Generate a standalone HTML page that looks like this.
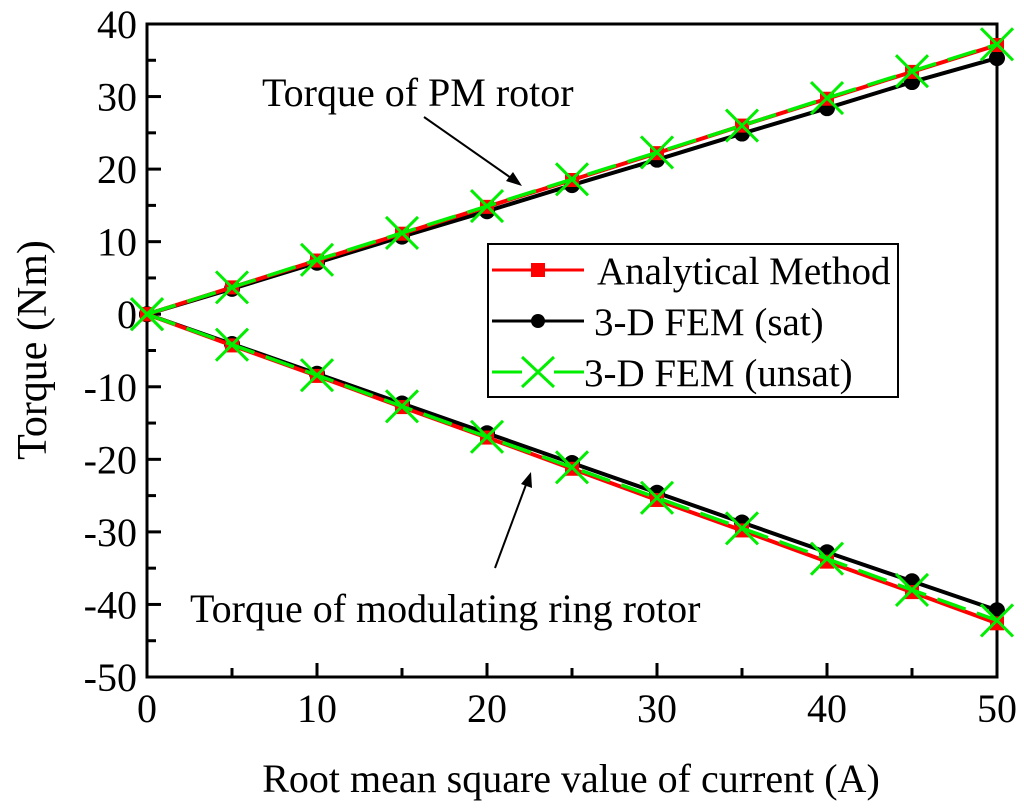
<!DOCTYPE html>
<html><head><meta charset="utf-8"><style>
body{margin:0;background:#fff}
svg{display:block;font-family:"Liberation Serif",serif}
</style></head><body>
<svg id="chart" width="1024" height="810" viewBox="0 0 1024 810" xmlns="http://www.w3.org/2000/svg">
<g id="axes"></g>
<g id="series"></g>
<text x="571" y="792" font-size="40" text-anchor="middle">Root mean square value of current (A)</text>
<text transform="translate(46,350) rotate(-90)" font-size="42" text-anchor="middle">Torque (Nm)</text>
<text x="262" y="106" font-size="40">Torque of PM rotor</text>
<line x1="424" y1="117" x2="514" y2="180" stroke="#000" stroke-width="2"/>
<polygon points="522,186 506,181 513,172" fill="#000"/>
<text x="190" y="622" font-size="40">Torque of modulating ring rotor</text>
<line x1="495" y1="568" x2="527" y2="482" stroke="#000" stroke-width="2"/>
<polygon points="531,472 532,488 521,484" fill="#000"/>
<g>
<rect x="488" y="244" width="410" height="153" fill="#fff" stroke="#000" stroke-width="2"/>
<g>
<line x1="492" y1="270" x2="584" y2="270" stroke="#f00" stroke-width="3"/>
<rect x="531" y="263" width="14" height="14" fill="#f00"/>
<text x="597" y="284" font-size="39">Analytical Method</text></g>
<g>
<line x1="492" y1="321" x2="584" y2="321" stroke="#000" stroke-width="3"/>
<circle cx="538" cy="321" r="7" fill="#000"/>
<text x="594" y="335" font-size="39">3-D FEM (sat)</text></g>
<g>
<line x1="492" y1="372" x2="522" y2="372" stroke="#0e0" stroke-width="3"/>
<line x1="554" y1="372" x2="584" y2="372" stroke="#0e0" stroke-width="3"/>
<path d="M522,357 L554,387 M554,357 L522,387" stroke="#0e0" stroke-width="3"/>
<text x="584" y="386" font-size="39">3-D FEM (unsat)</text></g>
</g>
</svg>
<script>
const currents=[0,5,10,15,20,25,30,35,40,45,50];
const pmAnalytical=[0,3.7,7.4,11.1,14.8,18.5,22.2,26,29.7,33.4,37.1];
const pmSat=[0,3.5,7.1,10.7,14.2,17.8,21.3,24.9,28.4,32,35.3];
const pmUnsat=[0,3.7,7.5,11.2,14.9,18.6,22.3,26,29.8,33.5,37.2];
const ringAnalytical=[0,-4.3,-8.5,-12.8,-17,-21.3,-25.6,-29.8,-34.1,-38.3,-42.6];
const ringSat=[0,-4.1,-8.2,-12.3,-16.4,-20.5,-24.6,-28.7,-32.8,-36.8,-40.8];
const ringUnsat=[0,-4.2,-8.4,-12.7,-16.9,-21.1,-25.3,-29.5,-33.7,-38,-42.2];
const xTicks=[0,10,20,30,40,50];
const yTicks=[40,30,20,10,0,-10,-20,-30,-40,-50];

const X0=147,X1=997,Y0=24,Y1=677;
const sx=v=>X0+(v-0)/50*(X1-X0);
const sy=v=>Y0+(40-v)/90*(Y1-Y0);
const NS='http://www.w3.org/2000/svg';
function mk(tag,attrs,parent){const e=document.createElementNS(NS,tag);for(const k in attrs)e.setAttribute(k,attrs[k]);parent.appendChild(e);return e;}
const axes=document.getElementById('axes');
const frame=mk('rect',{x:X0,y:Y0,width:X1-X0,height:Y1-Y0,fill:'none',stroke:'#000','stroke-width':3},axes);


for(let v=0;v<=50;v+=5){const major=v%10===0;const x=sx(v);const L=major?14:9;
 const t=mk('line',{x1:x,y1:Y1,x2:x,y2:Y1-L,stroke:'#000','stroke-width':3},axes);
 
 }
xTicks.forEach(v=>{const t=mk('text',{x:sx(v),y:Y1+45,'font-size':40,'text-anchor':'middle'},axes);t.textContent=v;
 
 });
for(let v=-50;v<=40;v+=5){const major=v%10===0;const y=sy(v);const L=major?14:9;
 const t=mk('line',{x1:X0,y1:y,x2:X0+L,y2:y,stroke:'#000','stroke-width':3},axes);
 
 }
yTicks.forEach(v=>{const t=mk('text',{x:X0-10,y:sy(v)+14,'font-size':40,'text-anchor':'end'},axes);t.textContent=v;
 
 });

const ser=document.getElementById('series');
function pts(a){return a.map((v,i)=>sx(currents[i])+','+sy(v)).join(' ');}
function drawSeries(vals,kind,name){
 const g=mk('g',{},ser);
 
 
 const col=kind==='sat'?'#000':kind==='an'?'#f00':'#0e0';
 mk('polyline',{points:pts(vals),fill:'none',stroke:col,'stroke-width':kind==='un'?3.5:4,'stroke-dasharray':kind==='un'?'30 12':'none'},g);
 vals.forEach((v,i)=>{const x=sx(currents[i]),y=sy(v);let m;
  if(kind==='an')m=mk('rect',{x:x-7,y:y-7,width:14,height:14,fill:'#f00'},g);
  else if(kind==='sat')m=mk('circle',{cx:x,cy:y,r:8,fill:'#000'},g);
  else m=mk('path',{d:`M${x-16},${y-16}L${x+16},${y+16}M${x+16},${y-16}L${x-16},${y+16}`,stroke:'#0e0','stroke-width':3},g);
  
  });
}
drawSeries(pmSat,'sat','pm-sat-series');
drawSeries(ringSat,'sat','ring-sat-series');
drawSeries(pmAnalytical,'an','pm-analytical-series');
drawSeries(ringAnalytical,'an','ring-analytical-series');
drawSeries(pmUnsat,'un','pm-unsat-series');
drawSeries(ringUnsat,'un','ring-unsat-series');
</script>
</body></html>
